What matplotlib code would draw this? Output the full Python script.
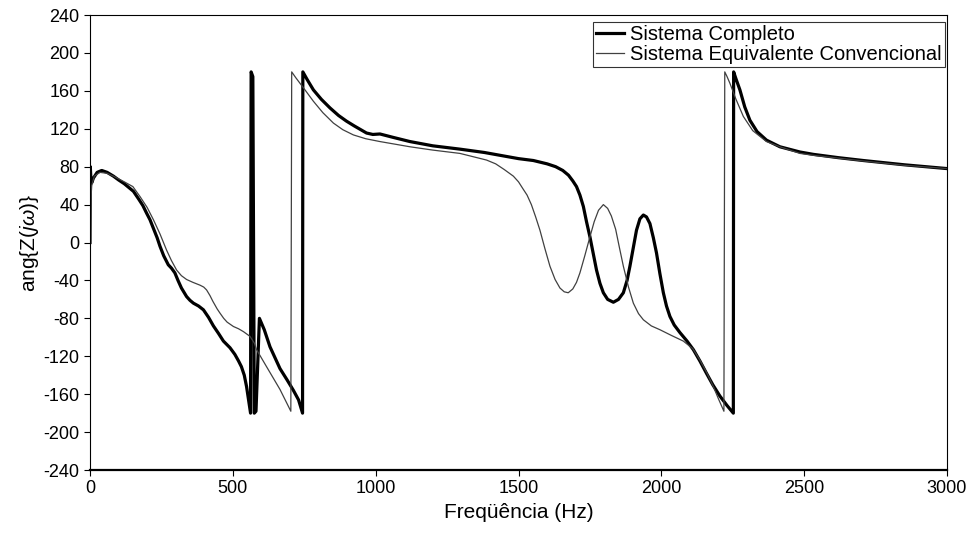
import matplotlib
matplotlib.use("Agg")
import matplotlib.pyplot as plt

'''
Phase of Z(jw) vs frequency, full system vs conventional equivalent.
Values read off the reference picture.
'''

# Sistema Completo (thick line)
freq_completo = [0, 1, 3, 6, 12, 25, 41, 60, 82, 100, 120, 140, 152, 170,
                 185, 198, 210, 222, 235, 245, 258, 274, 285, 297, 308, 320,
                 338, 350, 362, 380, 397, 415, 432, 450, 467, 480, 490, 507,
                 520, 530, 540, 548, 556, 562, 564, 570, 575, 581, 593, 610,
                 630, 665, 690, 712, 730, 744, 745, 760, 782, 810, 840, 870,
                 898, 925, 945, 968, 990, 1015, 1060, 1120, 1200, 1295, 1380,
                 1435, 1500, 1552, 1600, 1630, 1655, 1675, 1690, 1703, 1715,
                 1727, 1738, 1750, 1762, 1773, 1785, 1797, 1812, 1832, 1850,
                 1867, 1880, 1890, 1902, 1913, 1925, 1937, 1948, 1960, 1972,
                 1983, 1995, 2007, 2018, 2030, 2045, 2065, 2090, 2112, 2135,
                 2158, 2180, 2205, 2230, 2252, 2253, 2262, 2275, 2292, 2310,
                 2335, 2368, 2415, 2485, 2532, 2620, 2707, 2850, 3000]
ang_completo = [0, 80, 68, 63, 68, 74, 76, 74, 70, 66, 62, 57, 54, 46,
                39, 31, 24, 15, 5, -4, -14, -23.5, -27, -32, -40, -48,
                -57, -61, -64, -67, -71, -79, -88, -96, -104, -108, -111, -118,
                -125, -131, -140, -152, -168, -180, 180, 175, -180, -178, -80,
                -92, -110, -133, -145, -156, -166, -180, 180, 172, 161, 151,
                142, 134, 128, 123, 119.5, 115.5, 114, 114.5, 111, 106.5, 102,
                98.5, 95, 92, 88.5, 86.5, 83, 80, 76, 71, 65, 59, 50,
                38, 22, 6, -12, -29, -43, -53, -60, -63, -60,
                -53, -40, -25, -5, 13, 25, 29, 27, 20, 5,
                -11, -33, -53, -67, -78, -87, -95, -104, -113, -125,
                -138, -150, -162, -172, -180, 180, 172, 161, 143, 129,
                117, 108, 101, 95.5, 93, 89.5, 86.5, 82, 78]

# Sistema Equivalente Convencional (thin line)
freq_conv = [0, 2, 6, 15, 35, 60, 82, 120, 150, 175, 200, 222, 245, 268,
             285, 303, 320, 338, 360, 385, 398, 408, 420, 430, 445, 455, 468,
             480, 502, 520, 537, 560, 575, 583, 618, 665, 703, 706, 720, 735,
             755, 782, 815, 852, 885, 922, 965, 1015, 1120, 1200, 1295, 1388,
             1420, 1450, 1482, 1500, 1517, 1530, 1545, 1560, 1575, 1592, 1610,
             1628, 1645, 1660, 1674, 1690, 1703, 1715, 1732, 1750, 1765, 1780,
             1797, 1812, 1825, 1840, 1853, 1867, 1885, 1902, 1920, 1937, 1965,
             1995, 2035, 2077, 2110, 2135, 2160, 2182, 2200, 2219, 2222, 2230,
             2240, 2260, 2287, 2320, 2368, 2415, 2485, 2532, 2620, 2707, 2850,
             3000]
ang_conv = [0, 40, 60, 70, 74, 73, 70, 64, 59, 48.5, 37, 24, 9, -8,
            -19, -29, -35, -39, -42, -45, -47, -50, -56, -62, -70, -74.5, -80,
            -84, -88.6, -91, -94, -99, -106, -113, -131, -155, -178, 180, 174,
            168, 160, 149, 137, 126, 119, 113.5, 109.5, 106.5, 101, 97.5, 94,
            87, 83, 77, 70, 64, 56, 50, 40, 27, 13, -6, -25,
            -39, -48, -52, -53, -49, -42, -32, -14, 6, 22, 34,
            40, 36, 28, 14, -5, -25, -47, -64, -75, -81.5, -88,
            -92, -98, -104, -112, -124, -138, -152, -165, -178, 180, 175,
            168, 152, 133, 118, 106.5, 101, 94, 92, 89, 86, 81.5, 78]

x_ticks = [0, 500, 1000, 1500, 2000, 2500, 3000]
y_ticks = list(range(-240, 241, 40))


def main():
    plt.rcParams["font.family"] = ["Liberation Sans", "DejaVu Sans"]
    plt.rcParams["axes.unicode_minus"] = False
    plt.rcParams["mathtext.fontset"] = "custom"
    plt.rcParams["mathtext.it"] = "Liberation Sans:italic"
    plt.rcParams["mathtext.rm"] = "Liberation Sans"

    fig = plt.figure(figsize=(9.71, 5.44), dpi=100)
    ax = fig.add_axes([0.0927, 0.136, 0.8826, 0.8364])

    ax.plot(freq_completo, ang_completo, color="black", linewidth=2.3,
            label="Sistema Completo")
    ax.plot(freq_conv, ang_conv, color="#404040", linewidth=0.9,
            label="Sistema Equivalente Convencional")

    # Axes
    ax.set_xlim(0, 3000)
    ax.set_ylim(-240, 240)
    ax.set_xticks(x_ticks)
    ax.set_yticks(y_ticks)
    ax.tick_params(direction="out", length=4, width=0.8, labelsize=13)
    ax.set_xlabel("Freqüência (Hz)", fontsize=15, labelpad=4)
    ax.set_ylabel(r"ang{Z($j\omega$)}", fontsize=15, labelpad=2)
    for side in ["top", "right", "left"]:
        ax.spines[side].set_linewidth(0.8)
    ax.spines["bottom"].set_linewidth(1.6)

    # Legend
    leg = ax.legend(loc="upper right", bbox_to_anchor=(0.9975, 0.985),
                    fontsize=14.5, frameon=True, fancybox=False,
                    edgecolor="black", handlelength=1.4, handletextpad=0.3,
                    borderpad=0.15, labelspacing=0.05, borderaxespad=0)
    leg.get_frame().set_linewidth(0.8)

    fig.savefig("out.png", dpi=100)
    plt.close()


if __name__ == "__main__":
    main()
